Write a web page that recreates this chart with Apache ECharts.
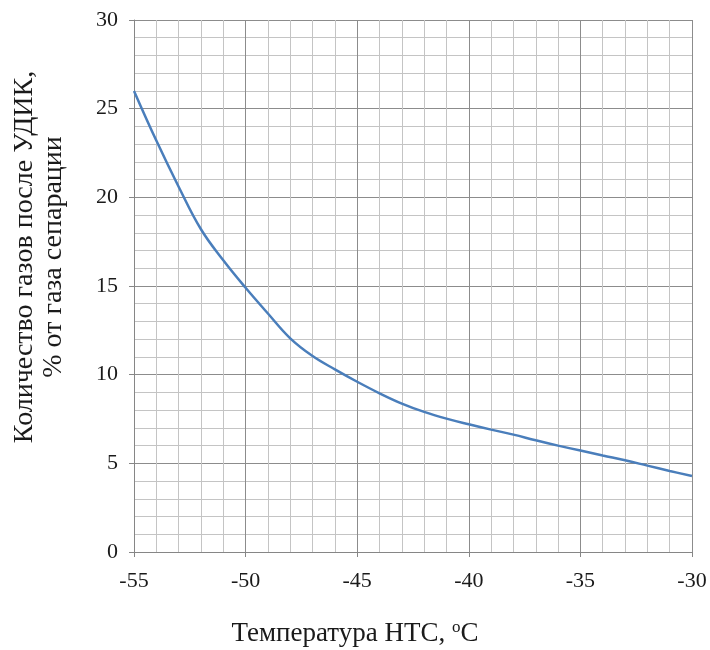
<!DOCTYPE html>
<html><head><meta charset="utf-8">
<script src="https://cdn.jsdelivr.net/npm/echarts@6/dist/echarts.min.js"></script>
<style>html,body{margin:0;padding:0;background:#fff}#c{width:710px;height:650px}</style>
</head><body><div id="c"></div>
<script>
const temps = [-55,-54,-53,-52,-51,-50,-49,-48,-47,-46,-45,-44,-43,-42,-41,-40,-39,-38,-37,-36,-35,-34,-33,-32,-31,-30];
const gasShare = [26.0,23.2,20.6,18.2,16.45,14.9,13.45,12.05,11.05,10.3,9.6,8.95,8.37,7.9,7.52,7.2,6.9,6.62,6.3,6.0,5.72,5.44,5.17,4.87,4.57,4.29];
const xTicks = [-55,-30,5];
const yTicks = [0,30,5];
const xTitle = 'Температура НТС, ';
const yTitle = 'Количество газов после УДИК,\n% от газа сепарации';

const chart = echarts.init(document.getElementById('c'));
const font = '"Liberation Serif","Times New Roman",serif';
chart.setOption({
  animation:false,
  grid:{left:134,right:18,top:20,bottom:98,outerBoundsMode:'none',containLabel:false},
  xAxis:{type:'value',min:xTicks[0],max:xTicks[1],interval:xTicks[2],
    name:xTitle+'{s|o}C',nameLocation:'middle',nameGap:67,
    nameTextStyle:{fontFamily:font,fontSize:27,color:'#1a1a1a',padding:[0,116,0,0],
      rich:{s:{fontFamily:font,fontSize:17,verticalAlign:'top',color:'#1a1a1a',padding:[0,0,12,0]}}},
    axisLine:{show:true,lineStyle:{color:'#868686',width:1}},
    axisTick:{show:true,length:5,lineStyle:{color:'#868686'}},
    axisLabel:{fontFamily:font,fontSize:22,color:'#1a1a1a',margin:18},
    splitLine:{show:true,lineStyle:{color:'#8c8c8c',width:1}},
    minorTick:{show:false,splitNumber:5},
    minorSplitLine:{show:true,lineStyle:{color:'#c4c4c4',width:1}}
  },
  yAxis:{type:'value',min:yTicks[0],max:yTicks[1],interval:yTicks[2],
    name:yTitle,nameLocation:'middle',nameGap:66,nameRotate:90,
    nameTextStyle:{fontFamily:font,fontSize:28,color:'#1a1a1a',lineHeight:29,padding:[0,0,0,58]},
    axisLine:{show:true,lineStyle:{color:'#868686',width:1}},
    axisTick:{show:true,length:5,lineStyle:{color:'#868686'}},
    axisLabel:{fontFamily:font,fontSize:22,color:'#1a1a1a',margin:16},
    splitLine:{show:true,lineStyle:{color:'#8c8c8c',width:1}},
    minorTick:{show:false,splitNumber:5},
    minorSplitLine:{show:true,lineStyle:{color:'#c4c4c4',width:1}}
  },
  series:[{type:'line',data:temps.map((t,i)=>[t,gasShare[i]]),smooth:0.4,showSymbol:false,
    lineStyle:{color:'#4a7ebb',width:2.5}}]
});
</script></body></html>
